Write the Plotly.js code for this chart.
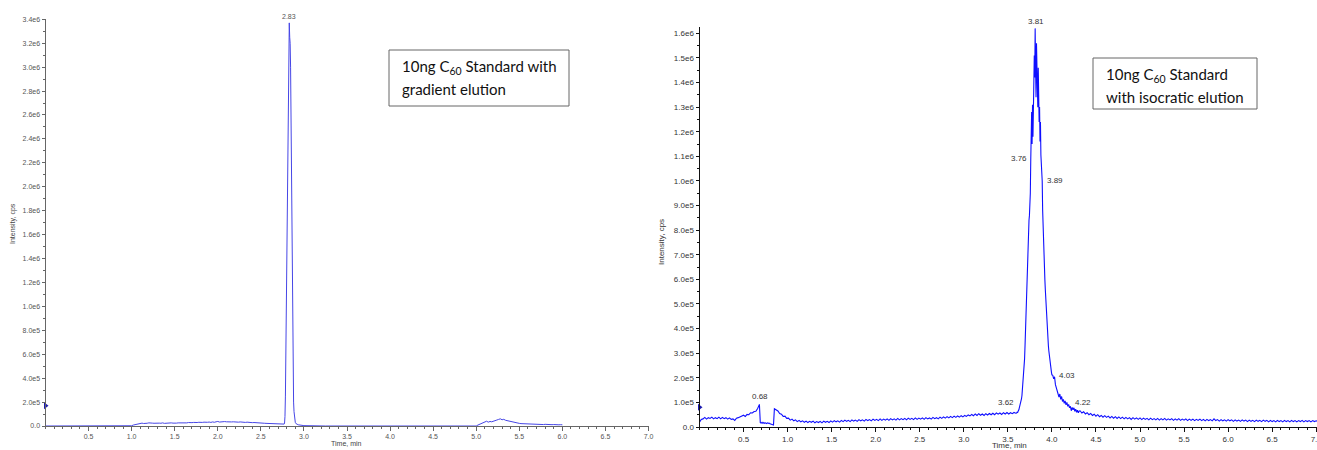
<!DOCTYPE html>
<html>
<head>
<meta charset="utf-8">
<script src="https://cdn.plot.ly/plotly-3.0.1.min.js"></script>
<style>
  html, body { margin: 0; padding: 0; background: #ffffff; }
  #chart { width: 1317px; height: 450px; }
</style>
</head>
<body>
<div id="chart"></div>
<script>
// ---------------- DATA (intensity in thousands of cps, time in min) ----------------
// Left chromatogram: 10 ng C60, gradient elution. Segments sampled on a fixed time step.
const leftSegStarts = [0.00, 1.00, 2.765, 3.00, 5.00];
const leftSegSteps  = [0.25, 0.02, 0.005, 0.25, 0.02];
const leftSeg1 = [0, 0, 0, 0];
const leftSeg2 = [2, 8, 12, 16, 20, 22, 24, 21, 25, 23, 26, 22, 24, 23, 25, 22, 24, 23, 26, 22,
                  24, 25, 23, 26, 24, 27, 24, 26, 25, 27, 25, 28, 26, 29, 27, 28, 30, 27, 29, 31,
                  28, 30, 32, 29, 31, 33, 30, 34, 31, 35, 38, 33, 36, 34, 37, 35, 33, 36, 34, 35,
                  33, 34, 32, 34, 31, 33, 30, 32, 29, 31, 28, 29, 27, 28, 25, 26, 24, 23, 22, 21,
                  19, 18, 17, 16, 15, 14, 13, 13, 14];
const leftSeg3 = [14, 16, 25, 80, 250, 600, 950, 1800, 2100, 2450, 2650, 3100, 3150, 3370, 3250,
                  3200, 3000, 2600, 2000, 1500, 1000, 600, 350, 200, 120, 70, 45, 30, 22, 18,
                  15, 13, 12, 11, 10, 9, 8, 7];
const leftSeg4 = [3, 0, 0, 0, 0, 0, 0, 0];
const leftSeg5 = [0, 8, 15, 22, 28, 35, 40, 32, 38, 35, 42, 45, 50, 55, 60, 52, 56, 48, 44, 40,
                  36, 32, 29, 26, 24, 22, 20, 19, 18, 17, 16, 15, 15, 14, 16, 14, 13, 15, 13, 12,
                  14, 12, 11, 13, 11, 12, 10, 11, 10, 11, 10];

// Right chromatogram: 10 ng C60, isocratic elution.
const rightSegStarts = [0.00, 0.69, 0.85, 3.60, 4.01, 4.32];
const rightSegSteps  = [0.02, 0.01, 0.02, 0.005, 0.01, 0.02];
const rightSeg1 = [20, 31, 33, 39, 32, 38, 35, 40, 33, 38, 34, 40, 33, 39, 34, 38, 32, 37, 31, 33,
                   27, 36, 38, 41, 42, 48, 43, 51, 50, 58, 57, 63, 64, 75, 92];
const rightSeg2 = [18, 16, 19, 15, 18, 15, 17, 14, 17, 15, 16, 13, 12, 9, 7, 8];
const rightSeg3 = [74, 70, 65, 55, 52, 43, 44, 35, 36, 28, 32, 25, 29, 22, 27, 21, 25, 19, 24, 18,
                   23, 19, 24, 17, 22, 18, 23, 17, 24, 19, 23, 18, 25, 20, 26, 21, 25, 20, 27, 22,
                   28, 23, 27, 22, 29, 24, 28, 23, 30, 25, 29, 24, 31, 26, 30, 25, 32, 27, 31, 26,
                   33, 27, 32, 28, 33, 27, 34, 29, 33, 28, 35, 29, 34, 30, 35, 29, 36, 31, 35, 30,
                   37, 31, 36, 32, 37, 31, 38, 33, 37, 32, 39, 34, 38, 33, 40, 35, 41, 36, 42, 37,
                   43, 38, 44, 39, 45, 40, 46, 41, 47, 43, 49, 45, 51, 46, 53, 47, 54, 48, 53, 47,
                   54, 49, 55, 50, 56, 50, 57, 52, 57, 51, 58, 53, 59, 53, 58, 54, 59, 56];
const rightSeg4 = [57, 61, 58, 63, 66, 70, 78, 84, 88, 93, 100, 115, 128, 148, 168, 195, 222, 250,
                   278, 330, 385, 470, 540, 610, 680, 720, 770, 800, 840, 860, 900, 950, 1085, 1210,
                   1280, 1150, 1310, 1180, 1350, 1260, 1510, 1420, 1620, 1450, 1340, 1560, 1510,
                   1380, 1300, 1460, 1350, 1240, 1300, 1160, 1240, 1105, 1080, 1040, 1000, 880, 800,
                   760, 700, 640, 600, 560, 520, 480, 440, 400, 380, 345, 330, 310, 290, 275, 260,
                   245, 235, 222, 212];
const rightSeg5 = [210, 196, 204, 172, 158, 138, 132, 122, 134, 112, 124, 104, 112, 96, 106, 90,
                   100, 84, 92, 78, 84, 66, 80, 70, 78, 64, 72, 60, 68, 58, 65];
const rightSeg6 = [66, 57, 62, 53, 58, 50, 55, 47, 52, 44, 50, 42, 47, 40, 46, 39, 44, 37, 43, 36,
                   42, 35, 41, 34, 40, 33, 39, 33, 38, 31, 38, 32, 37, 31, 37, 30, 36, 31, 35, 29,
                   36, 30, 34, 29, 35, 28, 34, 29, 35, 28, 33, 29, 34, 27, 33, 28, 34, 27, 32, 28,
                   33, 26, 32, 27, 32, 26, 31, 27, 32, 26, 31, 25, 31, 26, 30, 25, 33, 26, 30, 24,
                   30, 25, 29, 24, 30, 25, 29, 23, 29, 24, 28, 23, 29, 24, 28, 22, 28, 23, 27, 22,
                   28, 23, 27, 22, 28, 23, 27, 21, 27, 22, 26, 21, 27, 22, 26, 21, 27, 22, 26, 21,
                   27, 22, 26, 21, 26, 22, 27, 21, 26, 22, 26, 21, 26, 22, 25, 22];

// Threshold markers at the intensity axis (thousands of cps)
const leftAxisMarker = [170];
const rightAxisMarker = [80];

// Peak labels: [text, time, intensity (k cps)]
const leftPeakLabels = [["2.83", 2.83, 3370]];
const rightPeakLabels = [
  ["3.81", 3.81, 1620], ["3.76", 3.76, 1085], ["3.89", 3.89, 1000],
  ["4.03", 4.03, 196], ["4.22", 4.22, 70], ["3.62", 3.62, 66], ["0.68", 0.68, 92]
];

// Tick labels
const xTickVals = [0.5, 1.0, 1.5, 2.0, 2.5, 3.0, 3.5, 4.0, 4.5, 5.0, 5.5, 6.0, 6.5, 7.0];
const xTickText = ["0.5","1.0","1.5","2.0","2.5","3.0","3.5","4.0","4.5","5.0","5.5","6.0","6.5","7.0"];
const leftYTickVals = [0, 2e5, 4e5, 6e5, 8e5, 1e6, 1.2e6, 1.4e6, 1.6e6, 1.8e6, 2e6, 2.2e6, 2.4e6, 2.6e6, 2.8e6, 3e6, 3.2e6, 3.4e6];
const leftYTickText = ["0.0","2.0e5","4.0e5","6.0e5","8.0e5","1.0e6","1.2e6","1.4e6","1.6e6","1.8e6","2.0e6","2.2e6","2.4e6","2.6e6","2.8e6","3.0e6","3.2e6","3.4e6"];
const rightYTickVals = [0, 1e5, 2e5, 3e5, 4e5, 5e5, 6e5, 7e5, 8e5, 9e5, 1e6, 1.1e6, 1.2e6, 1.3e6, 1.4e6, 1.5e6, 1.6e6];
const rightYTickText = ["0.0","1.0e5","2.0e5","3.0e5","4.0e5","5.0e5","6.0e5","7.0e5","8.0e5","9.0e5","1.0e6","1.1e6","1.2e6","1.3e6","1.4e6","1.5e6","1.6e6"];

const leftBoxLines = ["10ng C<sub>60</sub> Standard with", "gradient elution"];
const rightBoxLines = ["10ng C<sub>60</sub> Standard", "with isocratic elution"];

// ---------------- BUILD ----------------
function buildSeries(starts, steps, segs) {
  const t = [], v = [];
  segs.forEach((seg, k) => {
    seg.forEach((val, i) => {
      t.push(+(starts[k] + i * steps[k]).toFixed(4));
      v.push(val * 1000);
    });
  });
  return { t, v };
}
const L = buildSeries(leftSegStarts, leftSegSteps, [leftSeg1, leftSeg2, leftSeg3, leftSeg4, leftSeg5]);
const R = buildSeries(rightSegStarts, rightSegSteps, [rightSeg1, rightSeg2, rightSeg3, rightSeg4, rightSeg5, rightSeg6]);

const W = 1317, H = 450;
const px = x => x / W;
const py = y => 1 - y / H;

const tickFontL = { family: "Liberation Sans, Arial, sans-serif", size: 7, color: "#555" };
const tickFontR = { family: "Liberation Sans, Arial, sans-serif", size: 8, color: "#333" };

const traces = [
  { x: L.t, y: L.v, xaxis: "x", yaxis: "y", type: "scatter", mode: "lines",
    line: { color: "#4646e6", width: 1 }, hoverinfo: "skip" },
  { x: R.t, y: R.v, xaxis: "x2", yaxis: "y2", type: "scatter", mode: "lines",
    line: { color: "#0f0fff", width: 1.1 }, hoverinfo: "skip" },
  { x: [0], y: leftAxisMarker.map(v => v * 1000), xaxis: "x", yaxis: "y", mode: "markers",
    marker: { symbol: "triangle-right", size: 6, color: "#1a1ab0" }, cliponaxis: false, hoverinfo: "skip" },
  { x: [0], y: rightAxisMarker.map(v => v * 1000), xaxis: "x2", yaxis: "y2", mode: "markers",
    marker: { symbol: "triangle-right", size: 6, color: "#1a1ab0" }, cliponaxis: false, hoverinfo: "skip" }
];

function xAxis(domain, range, font, lineColor, anchor) {
  return {
    domain, range, anchor, showgrid: false, zeroline: false, showline: true,
    linecolor: lineColor, linewidth: 1, ticks: "outside", ticklen: 4, tickwidth: 1, tickcolor: lineColor,
    tickmode: "array", tickvals: xTickVals, ticktext: xTickText, tickfont: font,
    ticklabeloverflow: "allow",
    minor: { dtick: 0.1, tick0: 0, ticks: "outside", ticklen: 2, tickcolor: lineColor, showgrid: false },
    fixedrange: true
  };
}
function yAxis(domain, range, vals, text, font, lineColor, anchor, minorStep) {
  return {
    domain, range, anchor, showgrid: false, zeroline: false, showline: true,
    linecolor: lineColor, linewidth: 1, ticks: "outside", ticklen: 3, tickwidth: 1, tickcolor: lineColor,
    tickmode: "array", tickvals: vals, ticktext: text, tickfont: font,
    minor: { dtick: minorStep, tick0: 0, ticks: "outside", ticklen: 2, tickcolor: lineColor, showgrid: false },
    fixedrange: true
  };
}

const annotations = [];
leftPeakLabels.forEach(([txt, t, v]) => {
  annotations.push({ xref: "x", yref: "y", x: t, y: v * 1000, text: txt, showarrow: false,
    xanchor: "center", yanchor: "bottom", yshift: 1, font: tickFontL });
});
const rightLabelStyle = {
  "3.81": { xanchor: "center", yanchor: "bottom", xshift: 1, yshift: 0 },
  "3.76": { xanchor: "right", yanchor: "middle", xshift: -2, yshift: 2 },
  "3.89": { xanchor: "left", yanchor: "middle", xshift: 3, yshift: 0 },
  "4.03": { xanchor: "left", yanchor: "middle", xshift: 2, yshift: 3 },
  "4.22": { xanchor: "left", yanchor: "middle", xshift: 2, yshift: 7 },
  "3.62": { xanchor: "right", yanchor: "middle", xshift: -2, yshift: 8 },
  "0.68": { xanchor: "center", yanchor: "bottom", xshift: 1, yshift: 1 }
};
rightPeakLabels.forEach(([txt, t, v]) => {
  annotations.push(Object.assign({ xref: "x2", yref: "y2", x: t, y: v * 1000, text: txt,
    showarrow: false, font: tickFontR }, rightLabelStyle[txt]));
});

// Axis titles
annotations.push({ xref: "paper", yref: "paper", x: px(347), y: py(443), text: "Time, min", showarrow: false,
  xanchor: "center", yanchor: "middle", font: { family: "Liberation Sans, Arial, sans-serif", size: 7, color: "#444" } });
annotations.push({ xref: "paper", yref: "paper", x: px(1009), y: py(445.5), text: "Time, min", showarrow: false,
  xanchor: "center", yanchor: "middle", font: { family: "Liberation Sans, Arial, sans-serif", size: 8, color: "#333" } });
annotations.push({ xref: "paper", yref: "paper", x: px(13), y: py(224), text: "Intensity, cps", showarrow: false,
  textangle: -90, xanchor: "center", yanchor: "middle", font: { family: "Liberation Sans, Arial, sans-serif", size: 7, color: "#444" } });
annotations.push({ xref: "paper", yref: "paper", x: px(661), y: py(242), text: "Intensity, cps", showarrow: false,
  textangle: -90, xanchor: "center", yanchor: "middle", font: { family: "Liberation Sans, Arial, sans-serif", size: 8, color: "#333" } });

// Text boxes
const boxFont = { family: "Lato, 'Open Sans', sans-serif", size: 15, color: "#111" };
annotations.push({ xref: "paper", yref: "paper", x: px(400), y: py(67), text: leftBoxLines[0], showarrow: false,
  xanchor: "left", yanchor: "middle", font: boxFont });
annotations.push({ xref: "paper", yref: "paper", x: px(400), y: py(89), text: leftBoxLines[1], showarrow: false,
  xanchor: "left", yanchor: "middle", font: boxFont });
annotations.push({ xref: "paper", yref: "paper", x: px(1104), y: py(75), text: rightBoxLines[0], showarrow: false,
  xanchor: "left", yanchor: "middle", font: boxFont });
annotations.push({ xref: "paper", yref: "paper", x: px(1104), y: py(97), text: rightBoxLines[1], showarrow: false,
  xanchor: "left", yanchor: "middle", font: boxFont });

const shapes = [
  { type: "rect", xref: "paper", yref: "paper", x0: px(389), x1: px(569), y0: py(106), y1: py(50),
    line: { color: "#666", width: 1 }, fillcolor: "rgba(0,0,0,0)" },
  { type: "rect", xref: "paper", yref: "paper", x0: px(1093), x1: px(1257), y0: py(109), y1: py(58),
    line: { color: "#666", width: 1 }, fillcolor: "rgba(0,0,0,0)" }
];

const layout = {
  width: W, height: H,
  margin: { l: 0, r: 0, t: 0, b: 0, pad: 0 },
  paper_bgcolor: "#ffffff", plot_bgcolor: "#ffffff",
  showlegend: false,
  xaxis: xAxis([px(45.5), px(648.5)], [0, 7], tickFontL, "#666", "y"),
  yaxis: yAxis([1 - 426 / H, 1 - 19.3 / H], [0, 3.4e6], leftYTickVals, leftYTickText, tickFontL, "#666", "x", 1e5),
  xaxis2: xAxis([px(699.5), 1], [0, 7.009], tickFontR, "#111", "y2"),
  yaxis2: yAxis([1 - 427 / H, 1 - 27.3 / H], [0, 1.6244e6], rightYTickVals, rightYTickText, tickFontR, "#111", "x2", 5e4),
  annotations, shapes
};

Plotly.newPlot("chart", traces, layout, { displayModeBar: false, staticPlot: true });
</script>
</body>
</html>
